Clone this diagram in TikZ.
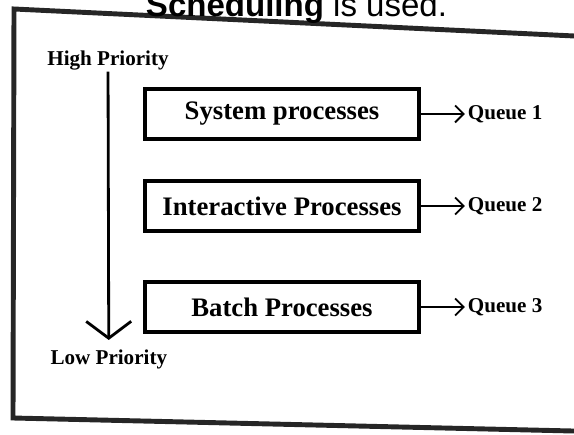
\documentclass[tikz,border=0pt]{standalone}
\usepackage{fontspec}
\setmainfont{Liberation Serif}
\newfontfamily\headfont{Liberation Sans}
\usetikzlibrary{positioning, arrows.meta}

\begin{document}
\begin{tikzpicture}[
        procbox/.style={draw, line width=2.6pt, minimum width=6.85cm, minimum height=1.25cm, font=\fontsize{19}{22}\selectfont\bfseries},
        plabel/.style={font=\fontsize{15}{18}\selectfont\bfseries, inner sep=1pt},
        qlabel/.style={font=\fontsize{15}{18}\selectfont\bfseries, inner sep=2pt},
        qarrow/.style={line width=1.3pt, -{Straight Barb[length=6pt, width=12pt, line width=1.3pt]}}
    ]
        \useasboundingbox (0, 0) rectangle (14.35, 10.85);

        \draw[line width=3.5pt, black!85, line join=miter] (15.5, 9.895) -- (0.35, 10.625) -- (0.325, 0.4) -- (15.5, 0.0475);
        \node[anchor=base west, font=\headfont\fontsize{23.5}{28}\selectfont] (title) at (3.525, 10.44) {\textbf{Scheduling} is used.};

        \node[plabel] (high) at (2.7, 9.34) {High Priority};
        \node[plabel] (low) at (2.72, 1.875) {Low Priority};
        \draw[line width=2pt, shorten >=5.5pt, -{Straight Barb[length=12pt, width=32pt, line width=2pt]}] (high) -- (low);

        \node[procbox] (sys) at (7.05, 8.0) {System processes};
        \node[procbox] (inter) at (7.05, 5.7) {Interactive Processes};
        \node[procbox] (batch) at (7.05, 3.175) {Batch Processes};

        \node[qlabel, right=1.1cm of sys] (q1) {Queue 1};
        \node[qlabel, right=1.1cm of inter] (q2) {Queue 2};
        \node[qlabel, right=1.1cm of batch] (q3) {Queue 3};

        \draw[qarrow] (sys) -- (q1);
        \draw[qarrow] (inter) -- (q2);
        \draw[qarrow] (batch) -- (q3);
    \end{tikzpicture}
\end{document}
